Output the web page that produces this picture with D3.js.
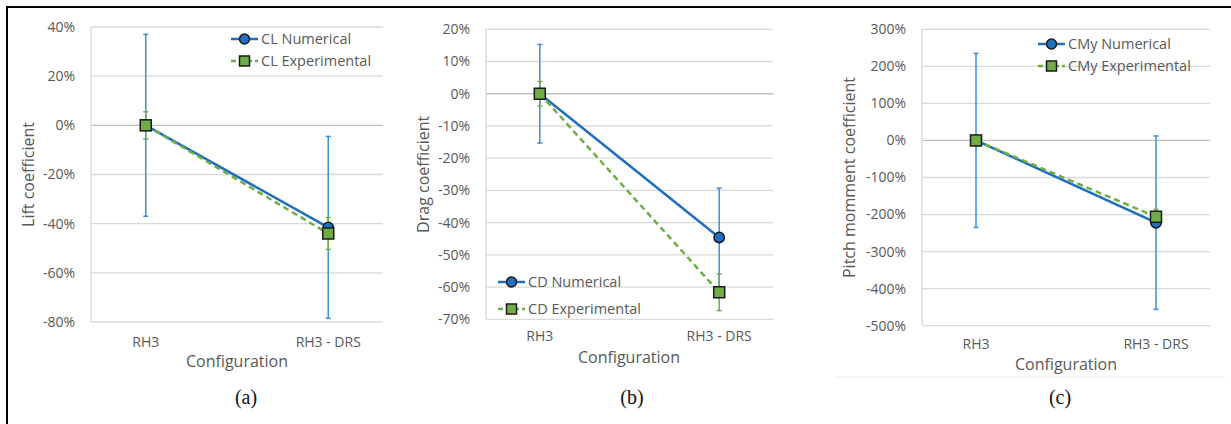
<!DOCTYPE html>
<html>
<head>
<meta charset="utf-8">
<script src="https://cdn.jsdelivr.net/npm/d3@7"></script>
<style>
  body { margin: 0; background: #fff; }
  svg { display: block; font-family: "Open Sans", sans-serif; }
  .tick-label { font-size: 14px; fill: #595959; }
  .axis-title { font-size: 16px; fill: #595959; }
  .legend-text { font-size: 14.5px; fill: #595959; }
  .caption { font-family: "Liberation Serif", serif; font-size: 20px; fill: #111; }
</style>
</head>
<body>
<svg id="chart" width="1231" height="424"></svg>
<script>
// data (values in %)
const categories = ['RH3', 'RH3 - DRS'];

const liftNumerical = [0, -41.5];
const liftNumericalErr = [37, 37];
const liftExperimental = [0, -44];
const liftExperimentalErr = [5.5, 6.5];
const liftTicks = [40, 20, 0, -20, -40, -60, -80];

const dragNumerical = [0, -44.6];
const dragNumericalErr = [15.3, 15.3];
const dragExperimental = [0, -61.6];
const dragExperimentalErr = [3.8, 5.7];
const dragTicks = [20, 10, 0, -10, -20, -30, -40, -50, -60, -70];

const pitchNumerical = [0, -222];
const pitchNumericalErr = [235, 234];
const pitchExperimental = [0, -206];
const pitchExperimentalErr = [10, 20];
const pitchTicks = [300, 200, 100, 0, -100, -200, -300, -400, -500];

const blue = '#1f6fbf';
const errBlue = '#3b8fdc';
const green = '#70ad47';

const svg = d3.select('#chart');

// outer frame (left and top only)
svg.append('line').attr('x1', 7).attr('x2', 7).attr('y1', 6).attr('y2', 424)
    .attr('stroke', '#000').attr('stroke-width', 2);
svg.append('line').attr('x1', 6).attr('x2', 1231).attr('y1', 7).attr('y2', 7)
    .attr('stroke', '#000').attr('stroke-width', 2);

const panels = [
    {
        left: 91, right: 383, top: 27, bottom: 322,
        ticks: liftTicks, yTitle: 'Lift coefficient', yTitleX: 28,
        catY: 347, confY: 367, confX: 237, caption: '(a)', capX: 246,
        num: liftNumerical, numErr: liftNumericalErr,
        exp: liftExperimental, expErr: liftExperimentalErr,
        names: ['CL Numerical', 'CL Experimental'],
        legX: 231, legY: [39, 61]
    },
    {
        left: 486, right: 773, top: 29.3, bottom: 319.3,
        ticks: dragTicks, yTitle: 'Drag coefficient', yTitleX: 423,
        catY: 341, confY: 363, confX: 629, caption: '(b)', capX: 632,
        num: dragNumerical, numErr: dragNumericalErr,
        exp: dragExperimental, expErr: dragExperimentalErr,
        names: ['CD Numerical', 'CD Experimental'],
        legX: 498, legY: [282, 309]
    },
    {
        left: 922, right: 1210, top: 29.3, bottom: 325.7,
        ticks: pitchTicks, yTitle: 'Pitch momment coefficient', yTitleX: 849,
        catY: 349, confY: 370, confX: 1066, caption: '(c)', capX: 1060,
        num: pitchNumerical, numErr: pitchNumericalErr,
        exp: pitchExperimental, expErr: pitchExperimentalErr,
        names: ['CMy Numerical', 'CMy Experimental'],
        legX: 1038, legY: [44, 66]
    }
];

panels.forEach(p => {
    const g = svg.append('g');
    const x = d3.scalePoint().domain(categories).range([p.left, p.right]).padding(0.3);
    const y = d3.scaleLinear()
        .domain([d3.min(p.ticks), d3.max(p.ticks)])
        .range([p.bottom, p.top]);

    // grid
    g.selectAll('.grid').data(p.ticks).enter().append('line')
        .attr('x1', p.left).attr('x2', p.right)
        .attr('y1', d => y(d)).attr('y2', d => y(d))
        .attr('stroke', d => d === 0 ? '#bfbfbf' : '#d9d9d9')
        .attr('stroke-width', 1.3);
    g.append('line').attr('x1', p.left).attr('x2', p.left)
        .attr('y1', p.top).attr('y2', p.bottom)
        .attr('stroke', '#d9d9d9').attr('stroke-width', 1.3);

    g.selectAll('.tick-label').data(p.ticks).enter().append('text')
        .attr('class', 'tick-label')
        .attr('x', p.left - 16).attr('y', d => y(d))
        .attr('dy', '0.35em').attr('text-anchor', 'end')
        .text(d => d + '%');

    g.selectAll('.cat').data(categories).enter().append('text')
        .attr('class', 'tick-label')
        .attr('x', d => x(d)).attr('y', p.catY)
        .attr('text-anchor', 'middle')
        .text(d => d);

    g.append('text').attr('class', 'axis-title')
        .attr('x', p.confX).attr('y', p.confY).attr('text-anchor', 'middle')
        .text('Configuration');

    g.append('text').attr('class', 'axis-title')
        .attr('transform', `translate(${p.yTitleX},${(p.top + p.bottom) / 2}) rotate(-90)`)
        .attr('dy', '0.35em').attr('text-anchor', 'middle')
        .text(p.yTitle);

    g.append('text').attr('class', 'caption')
        .attr('x', p.capX).attr('y', 404).attr('text-anchor', 'middle')
        .text(p.caption);

    // error bars
    const errBars = (vals, errs, color) => {
        vals.forEach((v, i) => {
            const cx = x(categories[i]);
            const y1 = y(v + errs[i]);
            const y2 = y(v - errs[i]);
            g.append('line').attr('x1', cx).attr('x2', cx).attr('y1', y1).attr('y2', y2)
                .attr('stroke', color).attr('stroke-width', 1.5);
            [y1, y2].forEach(yy => {
                g.append('line').attr('x1', cx - 2.5).attr('x2', cx + 2.5)
                    .attr('y1', yy).attr('y2', yy)
                    .attr('stroke', color).attr('stroke-width', 1.5);
            });
        });
    };
    errBars(p.num, p.numErr, errBlue);
    errBars(p.exp, p.expErr, green);

    const line = d3.line().x((d, i) => x(categories[i])).y(d => y(d));
    g.append('path').datum(p.num).attr('d', line)
        .attr('fill', 'none').attr('stroke', blue).attr('stroke-width', 2.5);
    g.append('path').datum(p.exp).attr('d', line)
        .attr('fill', 'none').attr('stroke', green).attr('stroke-width', 2.5)
        .attr('stroke-dasharray', '6,4');

    g.selectAll('.dot').data(p.num).enter().append('circle')
        .attr('cx', (d, i) => x(categories[i])).attr('cy', d => y(d)).attr('r', 5.2)
        .attr('fill', blue).attr('stroke', '#1a1a1a').attr('stroke-width', 1.5);
    g.selectAll('.sq').data(p.exp).enter().append('rect')
        .attr('x', (d, i) => x(categories[i]) - 5.5).attr('y', d => y(d) - 5.5)
        .attr('width', 11).attr('height', 11)
        .attr('fill', green).attr('stroke', '#1a1a1a').attr('stroke-width', 1.5);

    // legend
    const lg = g.append('g');
    [0, 1].forEach(k => {
        const ly = p.legY[k];
        lg.append('line').attr('x1', p.legX).attr('x2', p.legX + 27)
            .attr('y1', ly).attr('y2', ly)
            .attr('stroke', k === 0 ? blue : green).attr('stroke-width', 2.5)
            .attr('stroke-dasharray', k === 0 ? null : '5,3');
        if (k === 0) {
            lg.append('circle').attr('cx', p.legX + 13.5).attr('cy', ly).attr('r', 5)
                .attr('fill', blue).attr('stroke', '#1a1a1a').attr('stroke-width', 1.5);
        } else {
            lg.append('rect').attr('x', p.legX + 8.5).attr('y', ly - 5)
                .attr('width', 10).attr('height', 10)
                .attr('fill', green).attr('stroke', '#1a1a1a').attr('stroke-width', 1.5);
        }
        lg.append('text').attr('class', 'legend-text')
            .attr('x', p.legX + 30).attr('y', ly).attr('dy', '0.35em')
            .text(p.names[k]);
    });
});

// faint separator under panel (c)
svg.append('line').attr('x1', 835).attr('x2', 1225).attr('y1', 377).attr('y2', 377)
    .attr('stroke', '#ececec').attr('stroke-width', 1);
</script>
</body>
</html>
